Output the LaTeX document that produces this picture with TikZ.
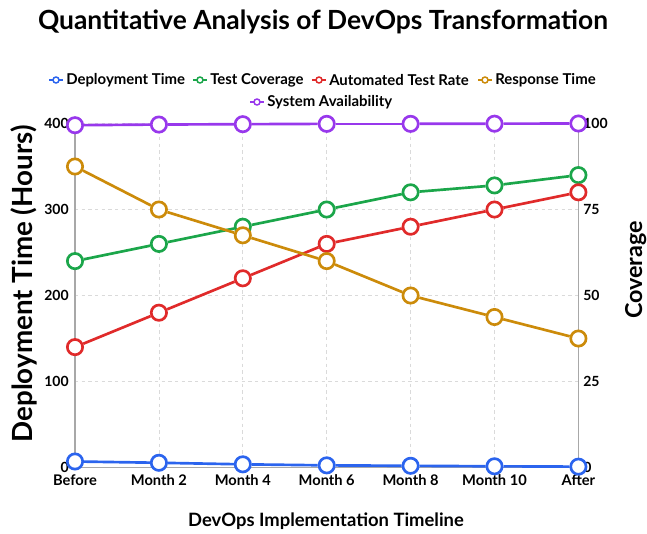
\documentclass[tikz,border=0pt]{standalone}
\usepackage{fontspec}
\setmainfont{Lato}
\definecolor{cblue}{HTML}{2B64EE}
\definecolor{cgreen}{HTML}{1BA64A}
\definecolor{cred}{HTML}{E02A2A}
\definecolor{corange}{HTML}{CC8B0A}
\definecolor{cpurple}{HTML}{9838EC}
\definecolor{cgrid}{HTML}{DADADA}
\definecolor{caxis}{HTML}{A8A8A8}
\begin{document}
\begin{tikzpicture}[x=0.75pt,y=-0.75pt,
  mk/.style={circle,draw=#1,fill=white,line width=2pt,minimum size=11.5pt,inner sep=0pt},
  ln/.style={draw=#1,line width=2pt},
  lgmk/.style={circle,draw=#1,fill=white,line width=1.1pt,minimum size=4.5pt,inner sep=0pt},
  lgtxt/.style={anchor=west,inner sep=0pt,font=\bfseries\fontsize{11.2}{13}\selectfont},
  tick/.style={inner sep=0pt,font=\bfseries\fontsize{10.5}{12}\selectfont},
  xlab/.style={anchor=base,inner sep=0pt,font=\bfseries\fontsize{11}{13}\selectfont},
  grid/.style={draw=cgrid,line width=0.6pt,dash pattern=on 2.5pt off 2.5pt},
  axis/.style={draw=caxis,line width=1pt}]
\useasboundingbox (0,0) rectangle (647,533);
% title
\node[anchor=base,inner sep=0pt,font=\bfseries\fontsize{19.8}{24}\selectfont] (title) at (323,29) {Quantitative Analysis of DevOps Transformation};
% legend
\foreach \c/\x/\t [count=\k] in {cblue/56/Deployment Time,cgreen/200/Test Coverage,cred/319/Automated Test Rate,corange/485/Response Time}{
  \coordinate (la\k) at ({\x-7},80);
  \coordinate (lb\k) at ({\x+7},80);
  \draw[draw=\c,line width=1.3pt] (la\k) -- (lb\k);
  \node[lgmk=\c] (lm\k) at (\x,80) {};
  \node[lgtxt] (lt\k) at ({\x+10},80) {\t};
}
\coordinate (la5) at (250,102);
\coordinate (lb5) at (264,102);
\draw[draw=cpurple,line width=1.3pt] (la5) -- (lb5);
\node[lgmk=cpurple] (lm5) at (257,102) {};
\node[lgtxt] (lt5) at (267,102) {System Availability};
% grid
\foreach \i in {1,...,5}{
  \coordinate (gt\i) at ({75+83.9*\i},123.5);
  \coordinate (gb\i) at ({75+83.9*\i},467.5);
  \draw[grid] (gt\i) -- (gb\i);
}
\foreach \v in {100,200,300,400}{
  \coordinate (hl\v) at (75,{467.5-0.86*\v});
  \coordinate (hr\v) at (578.4,{467.5-0.86*\v});
  \draw[grid] (hl\v) -- (hr\v);
}
% axes
\coordinate (o) at (75,467.5);
\coordinate (lt) at (75,123.5);
\coordinate (r0) at (578.4,467.5);
\coordinate (rt) at (578.4,123.5);
\draw[axis] (lt) -- (o) -- (r0) -- (rt);
% tick labels
\foreach \v in {0,100,200,300,400}{
  \node[tick,anchor=east] (yl\v) at (69,{467.5-0.86*\v}) {\v};
}
\foreach \v/\c in {0/0,100/25,200/50,300/75,400/100}{
  \node[tick,anchor=west] (yr\c) at (583,{467.5-0.86*\v}) {\c};
}
\foreach \t [count=\i from 0] in {Before,Month 2,Month 4,Month 6,Month 8,Month 10,After}{
  \node[xlab] (xl\i) at ({75+83.9*\i},485) {\t};
}
% axis titles
\node[anchor=base,inner sep=0pt,font=\bfseries\fontsize{13.8}{16}\selectfont] (xt) at (326,526) {DevOps Implementation Timeline};
\node[rotate=90,anchor=base,inner sep=0pt,font=\bfseries\fontsize{20.8}{24}\selectfont] (ytl) at (32,284) {Deployment Time (Hours)};
\node[rotate=90,anchor=base,inner sep=0pt,font=\bfseries\fontsize{17.5}{21}\selectfont] (ytr) at (642,270) {Coverage};
% series
\foreach \s/\c/\vals in {b/cblue/{7,5.5,3.7,2.5,2,1.4,1},g/cgreen/{240,260,280,300,320,328,340},r/cred/{140,180,220,260,280,300,320},o/corange/{350,300,270,240,200,175,150},p/cpurple/{398,398.8,399.2,399.6,399.6,399.8,400}}{
  \foreach \v [count=\i from 0] in \vals {
    \node[mk=\c] (\s\i) at ({75+83.9*\i},{467.5-0.86*\v}) {};
  }
  \foreach \i [evaluate=\i as \j using int(\i+1)] in {0,...,5}{
    \draw[ln=\c] (\s\i) -- (\s\j);
  }
}
\end{tikzpicture}
\end{document}
